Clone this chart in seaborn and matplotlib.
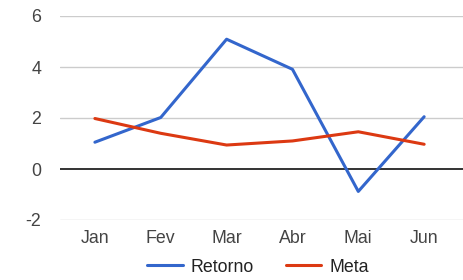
import matplotlib
matplotlib.use("Agg")
import matplotlib.pyplot as plt
import seaborn as sns
import pandas as pd
from matplotlib.lines import Line2D

months = ["Jan", "Fev", "Mar", "Abr", "Mai", "Jun"]
retorno = [1.05, 2.02, 5.09, 3.91, -0.88, 2.05]
meta = [1.98, 1.40, 0.94, 1.10, 1.46, 0.97]
series_names = ["Retorno", "Meta"]
colors = ["#3366cc", "#dc3912"]
yticks = [-2, 0, 2, 4, 6]

df = pd.DataFrame({
    "x": list(range(len(months))) * 2,
    "value": retorno + meta,
    "series": [series_names[0]] * len(months) + [series_names[1]] * len(months),
})

sns.set_style("white")
plt.rcParams["font.family"] = ["Liberation Sans", "DejaVu Sans"]

fig = plt.figure(figsize=(4.63, 2.80), dpi=100)
ax = fig.add_axes([60 / 463, 1 - 220 / 280, 1 - 60 / 463, (220 - 16) / 280])

for yv in yticks:
    if yv == 0:
        ax.axhline(yv, color="#333333", lw=1.4, zorder=1)
    else:
        ax.axhline(yv, color="#cccccc", lw=1.0, zorder=0)

sns.lineplot(data=df, x="x", y="value", hue="series", palette=colors,
             hue_order=series_names, lw=2.2, ax=ax, legend=False, zorder=3)

ax.set_xlim(-0.53, 5.59)
ax.set_ylim(-2, 6)
ax.set_xticks(range(len(months)))
ax.set_xticklabels(months)
ax.set_yticks(yticks)
ax.set_yticklabels([str(v) for v in yticks])
ax.tick_params(axis="both", length=0, labelsize=12.8, labelcolor="#444444")
ax.tick_params(axis="y", pad=13.5)
ax.tick_params(axis="x", pad=7)
ax.set_xlabel("")
ax.set_ylabel("")
for s in ax.spines.values():
    s.set_visible(False)

handles = [Line2D([0], [0], color=c, lw=2.2) for c in colors]
fig.legend(handles, series_names, loc="center", bbox_to_anchor=(258 / 463, 1 - 267 / 280),
           ncol=2, frameon=False, fontsize=12.8, handlelength=2.0,
           handletextpad=0.45, columnspacing=1.8, labelcolor="#222222",
           borderpad=0, borderaxespad=0)

fig.savefig("out.png", dpi=100)
